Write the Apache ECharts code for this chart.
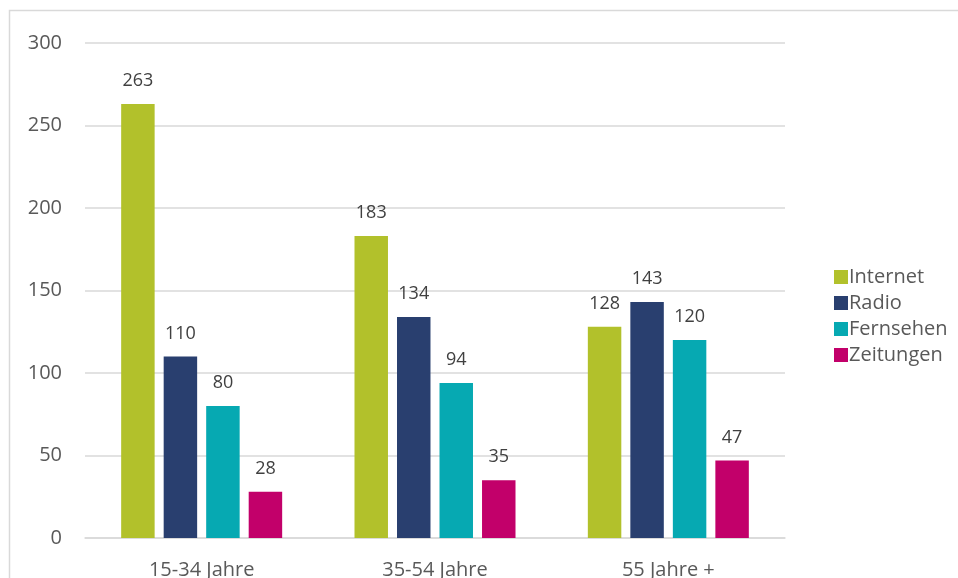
<!DOCTYPE html>
<html><head><meta charset="utf-8">
<script src="https://cdn.jsdelivr.net/npm/echarts@6/dist/echarts.min.js"></script>
<style>html,body{margin:0;padding:0;background:#fff}#c{width:958px;height:578px}</style>
</head><body><div id="c"></div>
<script>
const categories = ['15-34 Jahre', '35-54 Jahre', '55 Jahre +'];
const seriesNames = ['Internet', 'Radio', 'Fernsehen', 'Zeitungen'];
const internet = [263, 183, 128];
const radio = [110, 134, 143];
const fernsehen = [80, 94, 120];
const zeitungen = [28, 35, 47];
const yTicks = [0, 50, 100, 150, 200, 250, 300];
const colors = ['#b2c12b', '#293f6f', '#06a9b2', '#c2006a'];

const font = '"Open Sans", sans-serif';
const chart = echarts.init(document.getElementById('c'));
const values = [internet, radio, fernsehen, zeitungen];
chart.setOption({
  animation: false,
  color: colors,
  textStyle: { fontFamily: font },
  graphic: [{
    type: 'rect', shape: { x: 9.5, y: 10.5, width: 1000, height: 600 },
    style: { fill: 'none', stroke: '#d9d9d9', lineWidth: 1.5 }, silent: true
  }],
  grid: { left: 85, right: 173, top: 43, bottom: 40, outerBoundsMode: 'none', containLabel: false },
  legend: {
    orient: 'vertical', left: 829, top: 262,
    itemWidth: 14, itemHeight: 14, itemGap: 6,
    icon: 'rect',
    textStyle: { fontSize: 20, color: '#595959', fontFamily: font, padding: [0, 0, 0, -4], lineHeight: 19.5 },
    data: seriesNames
  },
  xAxis: {
    type: 'category', data: categories,
    axisLine: { lineStyle: { color: '#d9d9d9', width: 1.5 } },
    axisTick: { show: false },
    axisLabel: { fontSize: 20, color: '#595959', margin: 22, fontFamily: font }
  },
  yAxis: {
    type: 'value', min: 0, max: 300, interval: 50,
    axisLine: { show: false }, axisTick: { show: false },
    splitLine: { lineStyle: { color: '#d9d9d9', width: 1.5 } },
    axisLabel: { fontSize: 20, color: '#595959', margin: 23, fontFamily: font,
      formatter: v => yTicks.includes(v) ? String(v) : '' }
  },
  series: seriesNames.map((n, i) => ({
    name: n, type: 'bar', data: values[i],
    barGap: '27%', barCategoryGap: '31%',
    label: { show: true, position: 'top', distance: 14, fontSize: 18, color: '#404040', fontFamily: font }
  }))
});
</script></body></html>
